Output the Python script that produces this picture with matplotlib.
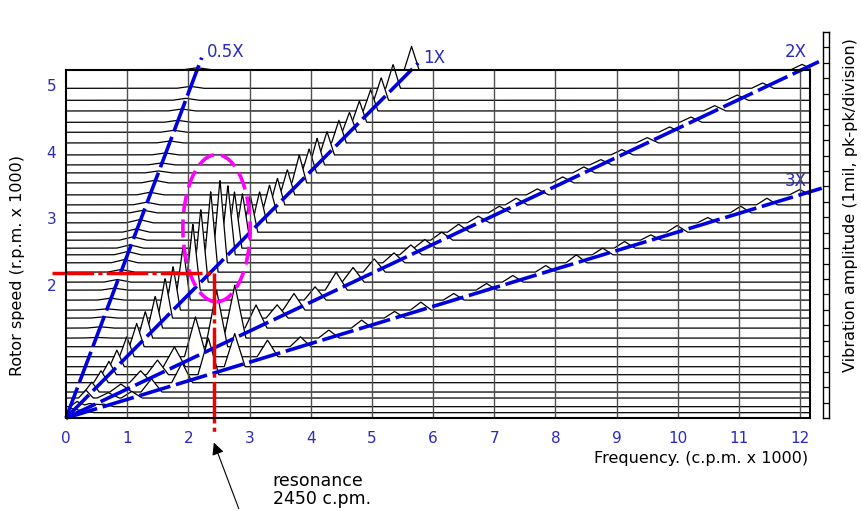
import numpy as np
import matplotlib
matplotlib.use('Agg')
import matplotlib.pyplot as plt
from matplotlib.patches import Ellipse

# rotor speed of each spectrum trace (r.p.m. x 1000), bottom to top
speeds = [0.08, 0.17, 0.30, 0.39, 0.53, 0.65, 0.77, 0.92, 1.07, 1.20, 1.35, 1.50, 1.62,
          1.77, 1.92, 2.04, 2.19, 2.33, 2.45, 2.55, 2.67, 2.79, 2.93, 3.08, 3.20, 3.35,
          3.53, 3.68, 3.80, 3.95, 4.13, 4.29, 4.44, 4.61, 4.77, 4.95, 5.23]

# peak amplitude of each order on every trace (in y-axis units)
amp_05x = [0.0, 0.0, 0.0, 0.0, 0.0, 0.0, 0.0, 0.0, 0.0, 0.01, 0.02, 0.02, 0.02,
           0.03, 0.03, 0.04, 0.04, 0.05, 0.05, 0.05, 0.05, 0.05, 0.05, 0.04, 0.04, 0.04,
           0.04, 0.03, 0.03, 0.03, 0.03, 0.03, 0.03, 0.03, 0.03, 0.03, 0.03]
amp_1x = [0.05, 0.08, 0.12, 0.15, 0.18, 0.20, 0.25, 0.30, 0.35, 0.40, 0.48, 0.60, 0.66,
          0.80, 1.00, 1.10, 1.22, 1.25, 1.05, 0.85, 0.70, 0.55, 0.47, 0.42, 0.40, 0.38,
          0.42, 0.36, 0.40, 0.35, 0.34, 0.30, 0.32, 0.32, 0.34, 0.36, 0.35]
amp_2x = [0.03, 0.05, 0.08, 0.12, 0.18, 0.22, 0.30, 0.60, 0.85, 0.80, 0.35, 0.20, 0.25,
          0.20, 0.27, 0.22, 0.20, 0.15, 0.15, 0.13, 0.12, 0.12, 0.10, 0.10, 0.10, 0.09,
          0.09, 0.09, 0.08, 0.08, 0.08, 0.08, 0.08, 0.08, 0.08, 0.08, 0.08]
amp_3x = [0.02, 0.04, 0.10, 0.20, 0.30, 0.55, 0.50, 0.25, 0.15, 0.12, 0.12, 0.10, 0.12,
          0.10, 0.10, 0.10, 0.10, 0.12, 0.10, 0.10, 0.08, 0.10, 0.08, 0.10, 0.10, 0.08,
          0.08, 0.08, 0.08, 0.08, 0.08, 0.08, 0.08, 0.08, 0.08, 0.08, 0.08]

# order lines as drawn: freq per speed, and speed where each line stops
orders = ['0.5X', '1X', '2X', '3X']
order_slope = [0.41, 1.08, 2.30, 3.58]
order_end = [5.41, 5.33, 5.35, 3.45]
peak_width = [0.22, 0.12, 0.18, 0.17]
label_pos = [(2.30, 5.50), (5.83, 5.41), (11.75, 5.50), (11.75, 3.56)]

res_freq = 2.42      # drawn position of the 2450 cpm resonance
res_speed = 2.18
ellipse_c = (2.46, 2.85)
ellipse_wh = (1.10, 2.21)

amps = [amp_05x, amp_1x, amp_2x, amp_3x]
blue = '#0000dd'
txt_blue = '#2a2ac0'

fig = plt.figure(figsize=(8.61, 5.11), dpi=100)
ax = fig.add_axes([66 / 861, 93 / 511, 744 / 861, 348 / 511])
ax.set_xlim(0, 12.16)
ax.set_ylim(0, 5.225)

x = np.linspace(0, 12.16, 3000)
n = len(speeds)
for i, r in enumerate(speeds):
    y = np.full_like(x, r)
    for k in range(4):
        f = order_slope[k] * r
        y += amps[k][i] * np.clip(1 - np.abs(x - f) / peak_width[k], 0, None)
    z = 2 + (n - i) * 0.02
    ax.fill_between(x, r, y, color='white', lw=0, zorder=z)
    ax.plot(x, y, color='black', lw=0.9, zorder=z + 0.01, clip_on=False)

for k in range(1, 13):
    ax.axvline(k, color='#505050', lw=1, zorder=3.5)

for k in range(4):
    ax.plot([0, order_slope[k] * order_end[k]], [0, order_end[k]], color=blue, lw=2.6,
            ls=(0, (9, 1.6)), zorder=5, clip_on=False)
    ax.text(label_pos[k][0], label_pos[k][1], orders[k], color=txt_blue, fontsize=12,
            ha='left', va='center', clip_on=False)

ax.add_patch(Ellipse(ellipse_c, ellipse_wh[0], ellipse_wh[1], fill=False, ec='#ff00ff',
                     lw=2.6, ls=(0, (5, 2)), zorder=6))

ax.plot([-0.23, res_freq], [res_speed, res_speed], color='#ee0000', lw=2.5,
        ls=(0, (12, 1.2, 1.2, 1.2)), zorder=6, clip_on=False)
ax.plot([res_freq, res_freq], [res_speed, -0.21], color='#ee0000', lw=2.5,
        ls=(0, (12, 1.2, 1.2, 1.2)), zorder=6, clip_on=False)

ax.annotate('', xy=(2.40, -0.33), xytext=(2.84, -1.40), annotation_clip=False,
            arrowprops=dict(arrowstyle='-|>', color='black', lw=0.8, mutation_scale=18))
ax.text(3.38, -1.08, 'resonance\n2450 c.pm.', fontsize=12.5, ha='left', va='center',
        linespacing=1.0)

for s in ax.spines.values():
    s.set_linewidth(1.5)
    s.set_zorder(7)
ax.set_xticks(range(13))
ax.set_yticks([2, 3, 4, 5])
ax.tick_params(length=0, colors=txt_blue, labelsize=11)
ax.tick_params(axis='x', pad=9)
ax.tick_params(axis='y', pad=7)

fig.text(808 / 861, 1 - 458 / 511, 'Frequency. (c.p.m. x 1000)', ha='right', va='center',
         fontsize=11.5)
fig.text(18 / 861, 1 - 265 / 511, 'Rotor speed (r.p.m. x 1000)', rotation=90,
         ha='center', va='center', fontsize=11.5)
fig.text(850 / 861, 1 - 205 / 511, 'Vibration amplitude (1mil, pk-pk/division)',
         rotation=90, ha='center', va='center', fontsize=11.5)

# amplitude scale ladder
lad = fig.add_axes([823 / 861, 93 / 511, 6 / 861, 386 / 511])
lad.set_ylim(0, 25)
lad.set_xlim(0, 1)
for k in range(1, 25):
    lad.axhline(k, color='black', lw=0.9)
lad.set_xticks([])
lad.set_yticks([])
for s in lad.spines.values():
    s.set_linewidth(1.0)

fig.savefig('out.png', dpi=100)
